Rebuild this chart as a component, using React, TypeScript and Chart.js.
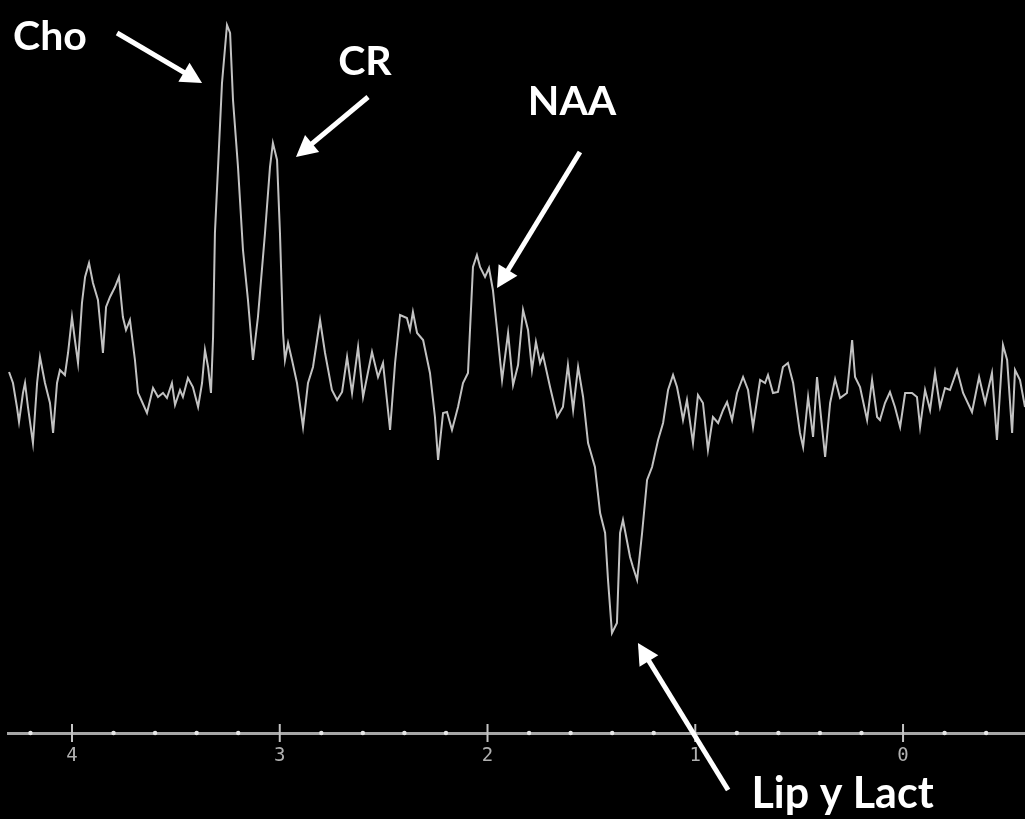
import React, { useEffect, useRef } from "react";
import { Chart, registerables } from "chart.js";

Chart.register(...registerables);

const ppm = [
  4.303, 4.284, 4.265, 4.255, 4.236, 4.226, 4.212, 4.188, 4.168, 4.154,
  4.130, 4.106, 4.091, 4.072, 4.058, 4.034, 4.019, 4.000, 3.986, 3.971,
  3.952, 3.937, 3.918, 3.899, 3.875, 3.851, 3.836, 3.817, 3.793, 3.774,
  3.755, 3.740, 3.721, 3.697, 3.682, 3.673, 3.639, 3.610, 3.586, 3.562,
  3.543, 3.519, 3.504, 3.480, 3.466, 3.442, 3.418, 3.393, 3.374, 3.360,
  3.345, 3.331, 3.321, 3.312, 3.297, 3.278, 3.254, 3.239, 3.225, 3.201,
  3.177, 3.153, 3.129, 3.105, 3.071, 3.047, 3.033, 3.013, 2.999, 2.984,
  2.975, 2.960, 2.941, 2.917, 2.888, 2.864, 2.840, 2.806, 2.782, 2.749,
  2.724, 2.700, 2.676, 2.652, 2.623, 2.599, 2.556, 2.527, 2.503, 2.469,
  2.445, 2.421, 2.388, 2.373, 2.359, 2.339, 2.310, 2.277, 2.253, 2.238,
  2.214, 2.195, 2.171, 2.142, 2.118, 2.094, 2.070, 2.051, 2.036, 2.012,
  1.993, 1.974, 1.954, 1.930, 1.901, 1.877, 1.853, 1.829, 1.805, 1.786,
  1.767, 1.747, 1.733, 1.699, 1.665, 1.637, 1.613, 1.588, 1.564, 1.540,
  1.516, 1.483, 1.458, 1.434, 1.420, 1.401, 1.377, 1.362, 1.348, 1.314,
  1.300, 1.280, 1.256, 1.232, 1.208, 1.179, 1.155, 1.131, 1.107, 1.088,
  1.073, 1.059, 1.040, 1.011, 0.987, 0.963, 0.939, 0.915, 0.890, 0.866,
  0.847, 0.823, 0.799, 0.770, 0.746, 0.722, 0.688, 0.664, 0.650, 0.626,
  0.602, 0.578, 0.554, 0.529, 0.496, 0.481, 0.457, 0.433, 0.414, 0.390,
  0.375, 0.351, 0.327, 0.303, 0.270, 0.245, 0.231, 0.207, 0.173, 0.149,
  0.125, 0.111, 0.087, 0.063, 0.039, 0.014, -0.010, -0.043, -0.067, -0.082,
  -0.106, -0.130, -0.154, -0.178, -0.202, -0.226, -0.260, -0.289, -0.332, -0.366,
  -0.395, -0.428, -0.452, -0.481, -0.501, -0.525, -0.539, -0.563, -0.587,
];

// signal intensity (arbitrary units) at each point
const intensity = [
  2.3, 1.2, -1.2, -2.7, 0.2, 1.2, -1.2, -4.8, 1.2, 3.8,
  1.2, -0.8, -3.8, 1.2, 2.5, 2.0, 4.2, 7.8, 5.5, 3.2,
  9.2, 11.8, 13.2, 11.2, 9.5, 4.2, 8.8, 9.8, 10.8, 11.8,
  7.8, 6.5, 7.5, 3.5, 0.2, -0.2, -1.8, 0.7, -0.2, 0.2,
  -0.3, 1.2, -1.0, 0.5, -0.2, 1.7, 0.8, -1.2, 1.2, 4.5,
  2.8, 0.2, 5.8, 16.2, 22.8, 31.2, 37.0, 36.2, 29.5, 22.8,
  14.5, 9.5, 3.5, 7.8, 16.2, 22.8, 25.2, 23.5, 16.2, 6.2,
  3.5, 5.2, 3.5, 1.2, -3.2, 1.2, 2.8, 7.5, 4.2, 0.5,
  -0.5, 0.3, 3.8, 0.2, 4.8, -0.2, 4.3, 1.8, 3.2, -3.5,
  3.2, 8.0, 7.7, 6.5, 8.3, 6.2, 5.5, 2.2, -2.2, -6.5,
  -1.8, -1.7, -3.5, -1.2, 1.2, 2.2, 12.8, 14.0, 12.8, 11.8,
  12.7, 10.5, 6.5, 1.5, 6.2, 1.0, 3.0, 8.5, 6.5, 2.5,
  5.3, 3.2, 4.0, 0.8, -2.2, -1.2, 3.0, -1.5, 2.8, -0.2,
  -4.8, -7.2, -11.8, -13.8, -18.5, -23.8, -22.8, -13.8, -12.5, -16.2,
  -17.2, -18.5, -13.8, -8.5, -7.2, -4.5, -2.8, 0.5, 2.0, 0.8,
  -0.8, -2.5, -0.5, -4.8, 0.0, -0.8, -5.5, -2.2, -2.8, -1.5,
  -0.7, -2.5, 0.2, 1.8, 0.5, -3.2, 1.5, 1.2, 2.0, 0.2,
  0.3, 2.8, 3.2, 1.2, -3.8, -5.2, -0.2, -4.2, 1.8, -3.2,
  -6.2, -0.8, 1.6, -0.3, 0.2, 5.5, 1.8, 0.8, -2.5, 1.5,
  -2.2, -2.5, -0.8, 0.3, -1.2, -3.2, 0.2, 0.2, -0.2, -3.2,
  0.5, -1.5, 2.2, -1.2, 0.7, 0.5, 2.5, 0.2, -1.7, 1.8,
  -0.8, 2.2, -4.5, 5.0, 3.5, -3.8, 2.5, 1.5, -1.2,
];

// annotation labels: text and anchor (ppm, intensity) of the text baseline centre
const labelTexts = ["Cho", "CR", "NAA", "Lip y Lact"];
const labelPpm = [4.106, 2.59, 1.593, 0.291];
const labelInt = [34.5, 32.0, 28.0, -41.3];
const labelSizes = [41, 41, 41, 43];

// arrows: tail and head in (ppm, intensity)
const arrowTailPpm = [3.783, 2.575, 1.555, 0.842];
const arrowTailInt = [36.2, 29.8, 24.3, -39.5];
const arrowHeadPpm = [3.374, 2.922, 1.954, 1.276];
const arrowHeadInt = [31.2, 23.8, 10.7, -24.8];

const X_MIN = -0.587;
const X_MAX = 4.308;
const Y_MIN = -33.8;
const Y_MAX = 39.5;

const axisDecor = {
  id: "axisDecor",
  afterDraw(chart: any) {
    const ctx = chart.ctx;
    const xs = chart.scales.x;
    const ys = chart.scales.y;
    const axisY = chart.chartArea.bottom;
    ctx.save();
    // tick marks and dots
    for (const t of xs.ticks) {
      const px = xs.getPixelForValue(t.value);
      const isMajor = Math.abs(t.value - Math.round(t.value)) < 1e-6;
      if (isMajor) {
        ctx.strokeStyle = "#c4c4c4";
        ctx.lineWidth = 2;
        ctx.beginPath();
        ctx.moveTo(px, axisY - 9);
        ctx.lineTo(px, axisY + 9);
        ctx.stroke();
      } else {
        ctx.fillStyle = "#e6e6e6";
        ctx.beginPath();
        ctx.arc(px, axisY, 2.2, 0, Math.PI * 2);
        ctx.fill();
      }
    }
    // arrows
    ctx.strokeStyle = "#ffffff";
    ctx.fillStyle = "#ffffff";
    for (let i = 0; i < arrowTailPpm.length; i++) {
      const x1 = xs.getPixelForValue(arrowTailPpm[i]);
      const y1 = ys.getPixelForValue(arrowTailInt[i]);
      const x2 = xs.getPixelForValue(arrowHeadPpm[i]);
      const y2 = ys.getPixelForValue(arrowHeadInt[i]);
      const ang = Math.atan2(y2 - y1, x2 - x1);
      const headLen = 21;
      const headW = 11;
      const bx = x2 - headLen * Math.cos(ang);
      const by = y2 - headLen * Math.sin(ang);
      ctx.lineWidth = 5;
      ctx.lineCap = "butt";
      ctx.beginPath();
      ctx.moveTo(x1, y1);
      ctx.lineTo(bx + 2 * Math.cos(ang), by + 2 * Math.sin(ang));
      ctx.stroke();
      ctx.beginPath();
      ctx.moveTo(x2, y2);
      ctx.lineTo(bx - headW * Math.sin(ang), by + headW * Math.cos(ang));
      ctx.lineTo(bx + headW * Math.sin(ang), by - headW * Math.cos(ang));
      ctx.closePath();
      ctx.fill();
    }
    // labels
    ctx.textAlign = "center";
    ctx.textBaseline = "alphabetic";
    for (let i = 0; i < labelTexts.length; i++) {
      ctx.font = `bold ${labelSizes[i]}px Lato, 'Open Sans', sans-serif`;
      ctx.fillText(
        labelTexts[i],
        xs.getPixelForValue(labelPpm[i]),
        ys.getPixelForValue(labelInt[i])
      );
    }
    ctx.restore();
  },
};

export default function App() {
  const ref = useRef<HTMLCanvasElement | null>(null);
  useEffect(() => {
    if (!ref.current) return;
    const points = ppm.map((p, i) => ({ x: p, y: intensity[i] }));
    const chart = new Chart(ref.current, {
      type: "line",
      data: {
        datasets: [
          {
            data: points,
            borderColor: "#c2c2c2",
            borderWidth: 2,
            pointRadius: 0,
            tension: 0,
            fill: false,
          },
        ],
      },
      options: {
        animation: false,
        responsive: false,
        maintainAspectRatio: false,
        events: [],
        layout: { padding: { left: 8, right: 0, top: 0, bottom: 0 } },
        plugins: { legend: { display: false }, tooltip: { enabled: false } },
        scales: {
          x: {
            type: "linear",
            reverse: true,
            min: X_MIN,
            max: X_MAX,
            afterFit: (s: any) => {
              s.height = 86;
            },
            border: { display: true, color: "#a6a6a6", width: 3 },
            grid: { display: false, drawTicks: false },
            ticks: {
              stepSize: 0.2,
              includeBounds: false,
              autoSkip: false,
              maxRotation: 0,
              padding: 12,
              color: "#b0b0b0",
              font: { family: "'DejaVu Sans Mono', monospace", size: 19 },
              callback: (v: any) => {
                const n = Number(v);
                return Math.abs(n - Math.round(n)) < 1e-6 ? String(Math.round(n)) : "";
              },
            },
          },
          y: {
            type: "linear",
            display: false,
            min: Y_MIN,
            max: Y_MAX,
          },
        },
      },
      plugins: [axisDecor],
    });
    return () => chart.destroy();
  }, []);
  return (
    <div
      style={{
        position: "fixed",
        left: 0,
        top: 0,
        width: 1025,
        height: 819,
        background: "#000",
        overflow: "hidden",
      }}
    >
      <canvas ref={ref} width={1025} height={819} style={{ display: "block" }} />
    </div>
  );
}
